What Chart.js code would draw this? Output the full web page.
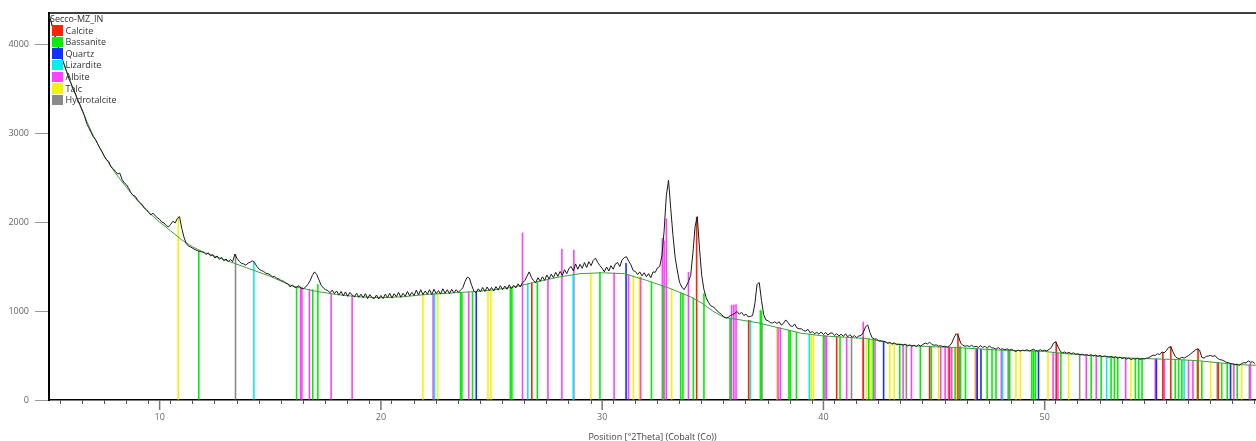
<!DOCTYPE html>
<html>
<head>
<meta charset="utf-8">
<script src="https://cdn.jsdelivr.net/npm/chart.js@4.4.1/dist/chart.umd.min.js"></script>
<style>
  body { margin: 0; background: #fff; }
  #wrap { position: relative; width: 1256px; height: 441px; }
  #legend { position: absolute; left: 50px; top: 13px; font: 9px "Open Sans", sans-serif; color: #333; line-height: 11.6px; }
  #legend .item { display: flex; align-items: center; margin-left: 1.5px; height: 11.6px; }
  #legend .sw { width: 11px; height: 10.5px; margin-right: 3px; }
</style>
</head>
<body>
<div id="wrap">
  <canvas id="chart" width="1256" height="441"></canvas>
  <div id="legend"></div>
</div>
<script>
// measured scan: Co K-alpha, 5.0 deg onward in 0.1 deg steps
const scanName = "Secco-MZ_IN";
const startAngle = 5.0;
const stepAngle = 0.1;
const observed = [
  4330, 4250, 4150, 4060, 3980, 3900, 3830, 3760, 3690, 3610,
  3560, 3490, 3440, 3370, 3320, 3260, 3200, 3110, 3060, 3010,
  2960, 2930, 2880, 2830, 2790, 2740, 2700, 2680, 2620, 2600,
  2570, 2540, 2550, 2480, 2440, 2420, 2380, 2330, 2300, 2290,
  2250, 2220, 2200, 2160, 2140, 2110, 2080, 2100, 2070, 2050,
  2030, 2000, 1990, 1960, 1945, 1975, 2010, 1990, 2040, 2060,
  1930, 1830, 1760, 1730, 1720, 1705, 1690, 1680, 1670, 1665,
  1660, 1635, 1655, 1620, 1635, 1595, 1620, 1580, 1605, 1565,
  1585, 1555, 1580, 1555, 1640, 1590, 1560, 1535, 1530, 1515,
  1540, 1550, 1565, 1540, 1500, 1470, 1455, 1445, 1425, 1420,
  1405, 1385, 1390, 1365, 1360, 1340, 1335, 1315, 1305, 1270,
  1295, 1265, 1270, 1285, 1255, 1250, 1270, 1300, 1340, 1400,
  1440, 1410, 1350, 1290, 1260, 1240, 1230, 1205, 1235, 1195,
  1225, 1180, 1220, 1170, 1215, 1165, 1210, 1180, 1160, 1200,
  1155, 1190, 1150, 1195, 1140, 1185, 1150, 1140, 1180, 1135,
  1175, 1140, 1190, 1150, 1200, 1145, 1195, 1160, 1210, 1155,
  1200, 1165, 1220, 1170, 1210, 1175, 1235, 1180, 1240, 1185,
  1225, 1190, 1240, 1185, 1245, 1195, 1230, 1190, 1250, 1200,
  1240, 1195, 1245, 1205, 1240, 1210, 1235, 1260, 1330, 1380,
  1370, 1290, 1225, 1205, 1250, 1215, 1265, 1220, 1270, 1230,
  1265, 1225, 1275, 1235, 1285, 1240, 1280, 1245, 1295, 1250,
  1290, 1260, 1305, 1270, 1320, 1340, 1390, 1440, 1380, 1340,
  1320, 1375, 1335, 1385, 1345, 1405, 1360, 1415, 1375, 1435,
  1390, 1445, 1400, 1465, 1420, 1480, 1500, 1450, 1530, 1470,
  1525, 1480, 1545, 1490, 1555, 1510, 1570, 1595, 1545, 1510,
  1480, 1440, 1495, 1450, 1510, 1470, 1530, 1545, 1500, 1575,
  1600, 1610, 1560, 1520, 1455, 1445, 1410, 1440, 1395, 1430,
  1385, 1420, 1375, 1440, 1435, 1485, 1500, 1620, 1900, 2300,
  2470, 2150, 1850, 1600, 1450, 1320, 1270, 1240, 1280, 1330,
  1400, 1650, 1950, 2060, 1700, 1400, 1240, 1150, 1100, 1060,
  1050, 1030, 1000, 980, 960, 935, 920, 930, 950, 960,
  975, 995, 965, 985, 950, 965, 935, 940, 950, 1080,
  1300, 1320, 1120, 960, 900, 890, 870, 865, 880, 860,
  880, 840, 865, 900, 870, 835, 825, 855, 810, 800,
  800, 780, 775, 795, 755, 770, 745, 760, 740, 765,
  735, 760, 730, 750, 755, 725, 745, 720, 740, 715,
  745, 710, 735, 705, 725, 700, 720, 725, 760, 820,
  845, 760, 700, 685, 685, 665, 665, 660, 655, 635,
  650, 625, 645, 620, 625, 625, 615, 630, 605, 620,
  605, 615, 600, 620, 605, 625, 640, 630, 650, 625,
  615, 620, 605, 610, 600, 605, 595, 610, 640, 700,
  745, 720, 640, 615, 605, 610, 600, 615, 595, 605,
  590, 610, 590, 605, 580, 610, 585, 585, 570, 590,
  570, 575, 565, 575, 560, 570, 555, 545, 560, 550,
  560, 555, 565, 550, 560, 570, 555, 550, 565, 555,
  560, 550, 570, 590, 640, 655, 600, 550, 530, 540,
  525, 535, 520, 530, 515, 520, 510, 515, 505, 510,
  500, 510, 495, 505, 490, 500, 485, 495, 490, 480,
  490, 475, 485, 470, 480, 465, 475, 460, 470, 455,
  465, 460, 470, 455, 465, 460, 470, 475, 490, 505,
  500, 520, 510, 540, 530, 555, 590, 600, 540, 490,
  470, 465, 480, 470, 485, 500, 520, 540, 560, 575,
  560, 480, 470, 490, 495, 500, 490, 500, 470, 455,
  450, 440, 425, 420, 410, 405, 395, 400, 390, 410,
  420, 415, 440, 425, 430, 410
];

// fitted background
const bgAngles = [5.0, 5.5, 6.0, 6.5, 7.0, 7.5, 8.0, 8.5, 9.0, 9.5, 10.0, 10.5, 11.0, 11.5, 12.0,
  13, 14, 15, 16, 17, 18, 19, 20, 21, 22, 23, 24, 25, 26, 27, 28, 29, 30, 31, 32, 33, 34, 34.5,
  35, 35.5, 36, 37, 38, 39, 40, 41, 42, 43, 44, 45, 46, 47, 48, 49, 50, 51, 52, 53, 54, 55, 56,
  57, 58, 59, 59.55];
const bgCounts = [4330, 3900, 3550, 3250, 2970, 2740, 2550, 2390, 2240, 2110, 2000, 1900, 1800, 1720, 1660,
  1570, 1480, 1390, 1280, 1225, 1185, 1160, 1150, 1160, 1185, 1200, 1215, 1235, 1270, 1325, 1380, 1420, 1430, 1420, 1345, 1260, 1160, 1090,
  1000, 930, 910, 870, 810, 750, 720, 705, 690, 640, 610, 598, 590, 575, 560, 555, 545, 520, 500, 485, 470, 462, 455,
  440, 415, 395, 390];

// reference patterns: [angle, counts at stick top]
const calcite = [[26.82, 1320], [34.27, 2060], [36.62, 900], [40.6, 720], [41.8, 710], [44.8, 610],
  [45.7, 600], [46.08, 750], [50.52, 655], [55.34, 530], [55.7, 600], [56.93, 580], [57.85, 420]];
const bassanite = [[11.77, 1680], [16.19, 1270], [16.92, 1245], [17.15, 1300], [23.6, 1215], [23.66, 1215],
  [24.14, 1220], [25.85, 1265], [25.92, 1270], [27.07, 1335], [29.9, 1440], [32.23, 1330], [32.76, 1285],
  [33.55, 1210], [33.65, 1200], [34.12, 1150], [34.6, 1200], [35.8, 920], [37.15, 1015], [37.2, 1000],
  [38.44, 790], [38.5, 785], [38.78, 765], [40.0, 725], [40.75, 712], [42.05, 690], [42.25, 680],
  [43.45, 628], [44.38, 608], [44.88, 603], [45.95, 592], [46.2, 600], [46.42, 588], [47.4, 572],
  [47.62, 568], [47.8, 565], [48.42, 560], [49.42, 555], [49.5, 555], [49.58, 555], [50.73, 540],
  [52.1, 500], [52.55, 492], [53.0, 485], [53.15, 483], [53.3, 480], [54.1, 470], [54.25, 468],
  [54.4, 466], [55.9, 456], [56.05, 455], [56.2, 452], [56.9, 442], [57.1, 440], [58.0, 415],
  [58.25, 410], [58.7, 400]];
const quartz = [[24.31, 1220], [31.08, 1540], [42.72, 660], [46.18, 600], [46.95, 578], [47.12, 575],
  [49.72, 550], [55.05, 462], [58.4, 408]];
const lizardite = [[14.26, 1560], [22.42, 1200], [26.64, 1310], [28.69, 1420], [36.7, 900], [39.36, 745],
  [48.1, 565], [52.8, 490], [56.3, 452]];
const albite = [[16.37, 1270], [16.43, 1270], [16.77, 1250], [17.75, 1200], [18.7, 1175], [22.36, 1195],
  [23.97, 1220], [26.4, 1880], [27.55, 1360], [28.18, 1700], [28.72, 1690], [30.54, 1430], [31.19, 1412],
  [31.74, 1385], [32.72, 1820], [32.8, 1790], [32.9, 2040], [33.9, 1440], [35.85, 1070], [35.95, 1070],
  [36.05, 1075], [37.22, 870], [37.95, 820], [38.05, 815], [40.07, 730], [40.14, 720], [41.05, 705],
  [41.8, 880], [42.33, 678], [43.6, 630], [43.98, 615], [45.3, 598], [45.5, 596], [45.65, 595],
  [45.8, 594], [46.9, 578], [48.04, 562], [50.38, 540], [50.6, 530], [51.88, 505], [52.33, 497],
  [53.66, 475], [55.0, 465], [55.4, 460], [56.5, 450], [56.7, 447], [58.55, 405], [59.3, 420]];
const talc = [[10.84, 2070], [21.9, 1185], [22.57, 1195], [24.84, 1235], [24.97, 1240], [29.49, 1425],
  [31.41, 1405], [31.68, 1390], [33.14, 1250], [37.9, 815], [39.45, 745], [39.55, 742], [41.95, 695],
  [42.17, 685], [43.0, 640], [43.2, 635], [45.2, 598], [46.0, 592], [46.85, 580], [48.7, 556],
  [48.9, 555], [50.15, 545], [51.08, 520], [53.9, 470], [57.5, 430], [58.9, 398]];
const hydrotalcite = [[13.43, 1640], [35.78, 925], [41.27, 702], [43.75, 620], [48.35, 560],
  [51.58, 510], [57.8, 420], [59.25, 395]];

const phaseNames = ["Calcite", "Bassanite", "Quartz", "Lizardite", "Albite", "Talc", "Hydrotalcite"];
const phaseColors = ["#ff2400", "#00f000", "#1030ff", "#00f0f0", "#ff40ff", "#f4f400", "#8a8a8a"];
const phaseSticks = [calcite, bassanite, quartz, lizardite, albite, talc, hydrotalcite];

const yTickValues = [0, 1000, 2000, 3000, 4000];
const xLabelValues = [10, 20, 30, 40, 50];

// html legend
const legend = document.getElementById("legend");
legend.innerHTML = `<div>${scanName}</div>` + phaseNames.map((n, i) =>
  `<div class="item"><span class="sw" style="background:${phaseColors[i]}"></span>${n}</div>`).join("");

const frame = {
  id: "frame",
  afterDraw(chart) {
    const { ctx, chartArea: a, scales: { x } } = chart;
    ctx.save();
    ctx.strokeStyle = "#000";
    ctx.lineWidth = 1.5;
    ctx.beginPath();
    ctx.moveTo(a.left, a.top);
    ctx.lineTo(a.right, a.top);
    ctx.stroke();
    ctx.strokeStyle = "#777";
    ctx.lineWidth = 1.5;
    ctx.beginPath();
    xLabelValues.forEach((v) => {
      const px = x.getPixelForValue(v);
      ctx.moveTo(px, a.bottom);
      ctx.lineTo(px, a.bottom + 10);
    });
    ctx.stroke();
    ctx.restore();
  },
};

const tickFont = { family: "Open Sans", size: 9 };

new Chart(document.getElementById("chart"), {
  type: "line",
  data: {
    datasets: [
      {
        label: scanName,
        data: observed.map((v, i) => ({ x: +(startAngle + i * stepAngle).toFixed(2), y: v })),
        borderColor: "#1a1a1a",
        borderWidth: 1,
        pointRadius: 0,
        order: 0,
      },
      {
        label: "Background",
        data: bgAngles.map((a, i) => ({ x: a, y: bgCounts[i] })),
        borderColor: "#3f9f3f",
        borderWidth: 1,
        pointRadius: 0,
        order: 1,
      },
      ...phaseSticks.map((s, k) => ({
        type: "bar",
        label: phaseNames[k],
        data: s.map(([a, h]) => ({ x: a, y: h })),
        backgroundColor: phaseColors[k],
        barThickness: 1.6,
        inflateAmount: 0,
        grouped: false,
        order: 2 + k,
      })),
    ],
  },
  options: {
    responsive: false,
    animation: false,
    events: [],
    layout: { padding: { top: 13, right: 0, left: 0, bottom: 0 } },
    plugins: { legend: { display: false }, tooltip: { enabled: false } },
    scales: {
      x: {
        type: "linear",
        min: 5,
        max: 59.55,
        offset: false,
        afterFit: (s) => { s.height = 41; },
        ticks: {
          stepSize: 1,
          includeBounds: false,
          autoSkip: false,
          maxRotation: 0,
          padding: 8,
          color: "#666",
          font: tickFont,
          callback: (v) => (xLabelValues.includes(Math.round(v)) && Math.abs(v - Math.round(v)) < 1e-6 ? String(Math.round(v)) : ""),
        },
        grid: { drawOnChartArea: false, tickLength: 4, color: "#555" },
        border: { color: "#000", width: 1.5 },
        title: { display: true, text: "Position [°2Theta] (Cobalt (Co))", color: "#444", font: tickFont, padding: { top: 0, bottom: -2 } },
      },
      y: {
        min: 0,
        max: 4350,
        afterFit: (s) => { s.width = 49; },
        afterBuildTicks: (s) => { s.ticks = yTickValues.map((v) => ({ value: v })); },
        ticks: { padding: 6, color: "#666", font: tickFont, callback: (v) => String(v) },
        grid: { drawOnChartArea: false, tickLength: 14, color: "#999" },
        border: { color: "#000", width: 2 },
      },
    },
  },
  plugins: [frame],
});
</script>
</body>
</html>
